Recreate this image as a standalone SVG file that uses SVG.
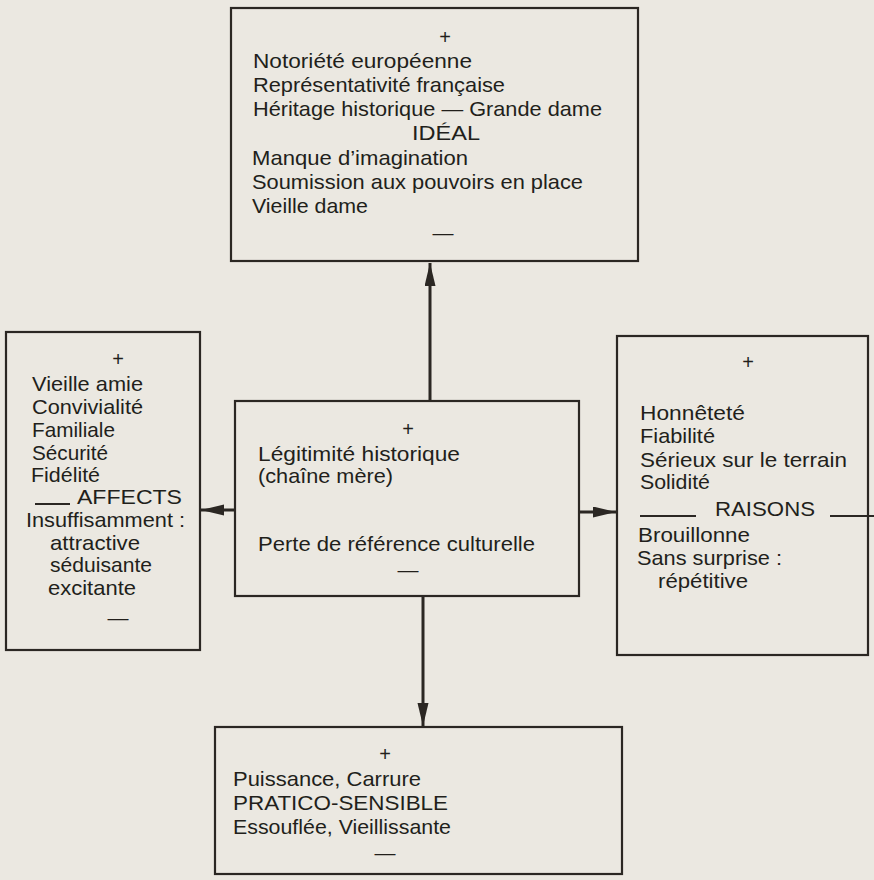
<svg xmlns="http://www.w3.org/2000/svg" width="874" height="880" viewBox="0 0 874 880">
<style>
  .box { fill: none; stroke: #2b2723; stroke-width: 2.2; }
  .t { font-family: "Liberation Sans", Arial, sans-serif; font-size: 21px; fill: #221f1b; }
  .p { font-size: 20px; }
  .c { text-anchor: middle; }
  .conn { stroke: #2b2723; stroke-width: 3; fill: none; }
  .ul { stroke: #2b2723; stroke-width: 1.8; }
</style>
<defs>
  <marker id="arr" markerUnits="userSpaceOnUse" markerWidth="24" markerHeight="12" refX="23" refY="5.5" orient="auto">
    <path d="M0,0 L23,5.5 L0,11 z" fill="#2b2723"/>
  </marker>
</defs>
<rect x="0" y="0" width="874" height="880" fill="#ebe8e1"/>

<g id="connectors">
  <line class="conn" x1="430" y1="401" x2="430" y2="263" marker-end="url(#arr)"/>
  <line class="conn" x1="235" y1="510" x2="201" y2="510" marker-end="url(#arr)"/>
  <line class="conn" x1="579" y1="512" x2="616" y2="512" marker-end="url(#arr)"/>
  <line class="conn" x1="423" y1="596" x2="423" y2="726" marker-end="url(#arr)"/>
</g>

<g id="ideal">
  <rect class="box" x="231" y="8" width="407" height="253"/>
  <text class="t p c" x="445" y="44">+</text>
  <text class="t" x="253" y="68" textLength="219" lengthAdjust="spacingAndGlyphs">Notoriété européenne</text>
  <text class="t" x="253" y="92" textLength="252" lengthAdjust="spacingAndGlyphs">Représentativité française</text>
  <text class="t" x="253" y="116" textLength="349" lengthAdjust="spacingAndGlyphs">Héritage historique — Grande dame</text>
  <text class="t" x="412" y="140" textLength="68" lengthAdjust="spacingAndGlyphs">IDÉAL</text>
  <text class="t" x="252" y="165" textLength="216" lengthAdjust="spacingAndGlyphs">Manque d’imagination</text>
  <text class="t" x="252" y="189" textLength="331" lengthAdjust="spacingAndGlyphs">Soumission aux pouvoirs en place</text>
  <text class="t" x="252" y="213" textLength="116" lengthAdjust="spacingAndGlyphs">Vieille dame</text>
  <text class="t c" x="443" y="240">—</text>
</g>

<g id="affects">
  <rect class="box" x="6" y="332" width="194" height="318"/>
  <text class="t p c" x="118" y="366">+</text>
  <text class="t" x="32" y="391" textLength="111" lengthAdjust="spacingAndGlyphs">Vieille amie</text>
  <text class="t" x="32" y="414" textLength="111" lengthAdjust="spacingAndGlyphs">Convivialité</text>
  <text class="t" x="32" y="437" textLength="83" lengthAdjust="spacingAndGlyphs">Familiale</text>
  <text class="t" x="32" y="460" textLength="76" lengthAdjust="spacingAndGlyphs">Sécurité</text>
  <text class="t" x="31" y="482" textLength="69" lengthAdjust="spacingAndGlyphs">Fidélité</text>
  <line class="ul" x1="35" y1="504" x2="70" y2="504"/>
  <text class="t" x="77" y="504" textLength="105" lengthAdjust="spacingAndGlyphs">AFFECTS</text>
  <text class="t" x="26" y="527" textLength="159" lengthAdjust="spacingAndGlyphs">Insuffisamment :</text>
  <text class="t" x="50" y="550" textLength="90" lengthAdjust="spacingAndGlyphs">attractive</text>
  <text class="t" x="50" y="572" textLength="102" lengthAdjust="spacingAndGlyphs">séduisante</text>
  <text class="t" x="48" y="595" textLength="88" lengthAdjust="spacingAndGlyphs">excitante</text>
  <text class="t c" x="118" y="625">—</text>
</g>

<g id="raisons">
  <rect class="box" x="617" y="336" width="251" height="319"/>
  <text class="t p c" x="748" y="369">+</text>
  <text class="t" x="640" y="420" textLength="105" lengthAdjust="spacingAndGlyphs">Honnêteté</text>
  <text class="t" x="640" y="443" textLength="75" lengthAdjust="spacingAndGlyphs">Fiabilité</text>
  <text class="t" x="640" y="467" textLength="207" lengthAdjust="spacingAndGlyphs">Sérieux sur le terrain</text>
  <text class="t" x="640" y="489" textLength="70" lengthAdjust="spacingAndGlyphs">Solidité</text>
  <line class="ul" x1="640" y1="516" x2="696" y2="516"/>
  <text class="t" x="715" y="516" textLength="100" lengthAdjust="spacingAndGlyphs">RAISONS</text>
  <line class="ul" x1="830" y1="516" x2="874" y2="516"/>
  <text class="t" x="638" y="542" textLength="112" lengthAdjust="spacingAndGlyphs">Brouillonne</text>
  <text class="t" x="637" y="565" textLength="145" lengthAdjust="spacingAndGlyphs">Sans surprise :</text>
  <text class="t" x="658" y="588" textLength="90" lengthAdjust="spacingAndGlyphs">répétitive</text>
</g>

<g id="legitimite">
  <rect class="box" x="235" y="401" width="344" height="195"/>
  <text class="t p c" x="408" y="436">+</text>
  <text class="t" x="258" y="461" textLength="202" lengthAdjust="spacingAndGlyphs">Légitimité historique</text>
  <text class="t" x="258" y="483" textLength="135" lengthAdjust="spacingAndGlyphs">(chaîne mère)</text>
  <text class="t" x="258" y="551" textLength="277" lengthAdjust="spacingAndGlyphs">Perte de référence culturelle</text>
  <text class="t c" x="408" y="577">—</text>
</g>

<g id="pratico">
  <rect class="box" x="215" y="727" width="407" height="147"/>
  <text class="t p c" x="385" y="761">+</text>
  <text class="t" x="233" y="786" textLength="188" lengthAdjust="spacingAndGlyphs">Puissance, Carrure</text>
  <text class="t" x="233" y="810" textLength="215" lengthAdjust="spacingAndGlyphs">PRATICO-SENSIBLE</text>
  <text class="t" x="233" y="834" textLength="218" lengthAdjust="spacingAndGlyphs">Essouflée, Vieillissante</text>
  <text class="t c" x="385" y="860">—</text>
</g>
</svg>
